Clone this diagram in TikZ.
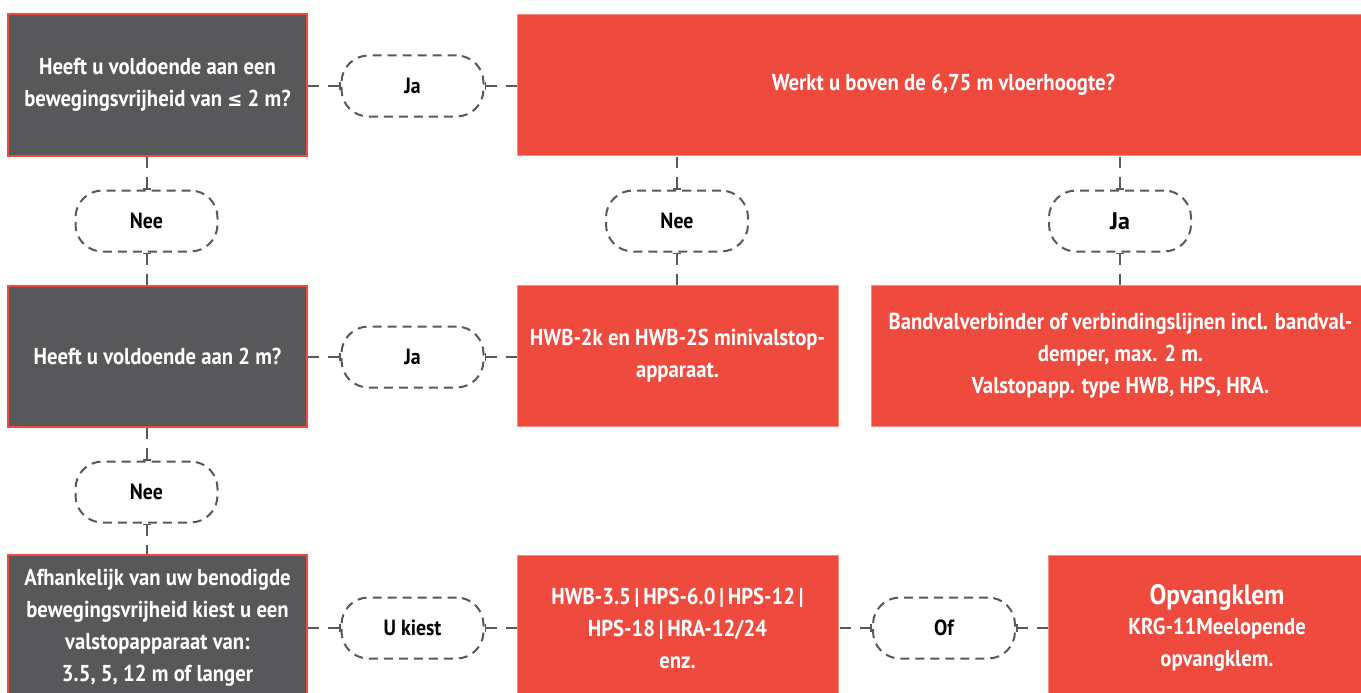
\documentclass[tikz,border=0pt]{standalone}
\usepackage{fontspec}
\setmainfont{PT Sans}[FakeStretch=0.9]
\newfontfamily\wideface{PT Sans}
\newfontfamily\symface{DejaVu Sans}[FakeStretch=0.9]
\usetikzlibrary{arrows.meta,positioning}
\definecolor{cRed}{HTML}{EE4B3E}
\definecolor{cDark}{HTML}{58585A}
\definecolor{cLine}{HTML}{58595B}
\tikzset{
  qbox/.style={rectangle,fill=cDark,draw=cRed,line width=2pt,text=white,font=\bfseries\fontsize{23}{32}\selectfont,align=center,inner sep=0pt,minimum width=299pt,minimum height=141pt},
  abox/.style={rectangle,fill=cRed,draw=cRed!65!white,line width=.8pt,text=white,font=\bfseries\fontsize{23}{32}\selectfont,align=center,inner sep=0pt,minimum height=141pt},
  pill/.style={rectangle,rounded corners=27pt,fill=white,draw=cLine,line width=2pt,dash pattern=on 9pt off 6pt,minimum width=142pt,minimum height=61pt,font=\bfseries\fontsize{22}{24}\selectfont,inner sep=0pt},
  link/.style={draw=cLine,line width=2pt,dash pattern=on 11pt off 9pt,{Bar[width=8pt,line width=1.6pt]}-},
}
\begin{document}
\begin{tikzpicture}[x=1pt,y=-1pt]
  \useasboundingbox (0,0) rectangle (1361,693);
  \clip (0,0) rectangle (1361,693);
  % ---------------- questions (left column)
  \node[qbox] (q1) at (157.5,85) {Heeft u voldoende aan een\\bewegingsvrijheid van {\symface\fontsize{20}{32}\selectfont ≤} 2 m?};
  \node[qbox] (q2) at (157.5,356) {Heeft u voldoende aan 2 m?};
  \node[qbox,minimum height=146pt] (q3) at (157.5,628) {Afhankelijk van uw benodigde\\bewegingsvrijheid kiest u een\\valstopapparaat van:\\3.5, 5, 12 m of langer};
  % ---------------- answers (red)
  \node[abox,minimum width=853pt] (werkt) at (943.5,85) {Werkt u boven de 6,75 m vloerhoogte?};
  \node[abox,minimum width=321pt] (hwb2) at (677.5,356) {HWB-2k en HWB-2S minivalstop-\\apparaat.};
  \node[abox,minimum width=499pt] (band) at (1120.5,356) {Bandvalverbinder of verbindingslijnen incl. bandval-\\demper, max. 2 m.\\Valstopapp. type HWB, HPS, HRA.};
  \node[abox,minimum width=321pt,minimum height=146pt] (hwb3) at (677.5,628) {HWB-3.5\,|\,HPS-6.0\,|\,HPS-12\,|\\HPS-18\,|\,HRA-12/24\\enz.};
  \node[abox,minimum width=338pt,minimum height=146pt] (opv) at (1217,628) {{\fontsize{28}{32}\selectfont Opvangklem}\\[-2pt]KRG-11Meelopende\\opvangklem.};
  % ---------------- pills
  \node[pill] (ja1) at (412.5,86) {Ja};
  \node[pill] (nee1) at (146.5,221) {Nee};
  \node[pill] (nee3) at (677,221) {Nee};
  \node[pill,font=\wideface\bfseries\fontsize{24}{26}\selectfont] (ja3) at (1120,221) {Ja};
  \node[pill] (ja2) at (412.5,357) {Ja};
  \node[pill] (nee2) at (146.5,492) {Nee};
  \node[pill] (uk) at (412.5,628) {U kiest};
  \node[pill] (of) at (944,628) {Of};
  % ---------------- connectors
  \draw[link] (ja1) -- (ja1 -| q1.east);
  \draw[link] (ja1) -- (ja1 -| werkt.west);
  \draw[link] (nee1) -- (nee1 |- q1.south);
  \draw[link] (nee1) -- (nee1 |- q2.north);
  \draw[link] (nee3) -- (nee3 |- werkt.south);
  \draw[link] (nee3) -- (nee3 |- hwb2.north);
  \draw[link] (ja3) -- (ja3 |- werkt.south);
  \draw[link] (ja3) -- (ja3 |- band.north);
  \draw[link] (ja2) -- (ja2 -| q2.east);
  \draw[link] (ja2) -- (ja2 -| hwb2.west);
  \draw[link] (nee2) -- (nee2 |- q2.south);
  \draw[link] (nee2) -- (nee2 |- q3.north);
  \draw[link] (uk) -- (uk -| q3.east);
  \draw[link] (uk) -- (uk -| hwb3.west);
  \draw[link] (of) -- (of -| hwb3.east);
  \draw[link] (of) -- (of -| opv.west);
\end{tikzpicture}
\end{document}
